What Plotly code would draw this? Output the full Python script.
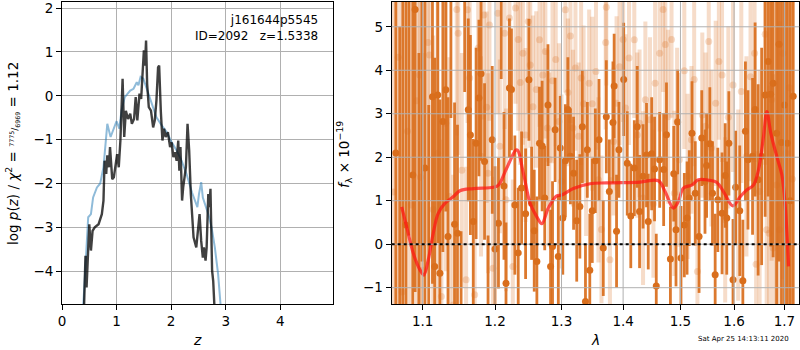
import plotly.graph_objects as go

# ---------------- left panel: p(z) ----------------
z_chi = [0.38,0.44,0.48,0.53,0.57,0.64,0.70,0.76,0.83,0.89,0.94,1.00,1.05,1.09,1.15,1.25,1.31,1.37,1.40,1.44,1.49,1.55,1.64,1.73,1.83,1.92,2.01,2.10,2.19,2.28,2.38,2.44,2.48,2.51,2.55,2.58,2.62,2.68,2.74,2.80,2.86,2.92]
logp_chi = [-5.0,-3.46,-2.77,-2.70,-2.32,-2.09,-2.00,-1.63,-0.64,-0.94,-0.79,-0.58,-0.75,-0.34,-0.03,0.12,0.16,0.31,0.24,0.43,0.39,0.16,-0.18,-0.49,-0.68,-0.83,-1.06,-1.25,-1.48,-1.78,-2.20,-2.39,-2.54,-2.24,-1.97,-2.32,-2.47,-2.70,-3.00,-3.46,-4.07,-5.0]

z_pz = [0.40,0.43,0.45,0.48,0.50,0.53,0.56,0.60,0.67,0.73,0.76,0.78,0.81,0.83,0.86,0.88,0.92,0.95,0.99,1.01,1.04,1.07,1.11,1.14,1.17,1.21,1.25,1.28,1.32,1.35,1.38,1.42,1.45,1.48,1.50,1.52,1.54,1.56,1.59,1.63,1.67,1.70,1.73,1.76,1.78,1.81,1.84,1.87,1.90,1.94,1.98,2.01,2.04,2.07,2.10,2.13,2.15,2.17,2.20,2.22,2.25,2.27,2.30,2.33,2.36,2.41,2.46,2.49,2.52,2.55,2.58,2.60,2.63,2.65,2.68,2.70,2.72,2.75,2.77,2.80]
logp_pz = [-5.0,-3.65,-4.37,-3.31,-2.93,-3.53,-3.08,-3.00,-2.93,-2.70,-2.39,-1.48,-1.78,-1.36,-1.63,-1.17,-1.90,-1.86,-1.48,-1.33,-1.63,-1.02,0.39,-0.94,-0.34,-0.53,-0.41,-0.64,-0.53,-0.03,-0.56,0.05,-0.07,0.58,1.04,0.69,1.26,0.27,-0.26,-0.34,-0.72,-0.56,-0.11,0.65,0.69,-0.34,-1.02,-0.75,-0.94,-0.83,-1.17,-1.06,-1.40,-1.29,-1.48,-1.02,-1.71,-1.17,-2.39,-2.09,-1.78,-1.63,-0.64,-1.25,-2.24,-3.23,-3.46,-3.08,-2.70,-3.31,-3.69,-3.46,-3.76,-3.46,-2.24,-2.54,-2.12,-3.99,-4.22,-5.0]

# ---------------- right panel: spectrum ----------------
wave_a = [1.065,1.070,1.074,1.078,1.082,1.087,1.090,1.095,1.099,1.103,1.108,1.113,1.116,1.120,1.123,1.127,1.131,1.134,1.138,1.143,1.147,1.152,1.157,1.162,1.165,1.169,1.173,1.177,1.180,1.185,1.190,1.196,1.200,1.205,1.209,1.213,1.216,1.221,1.224,1.229,1.234,1.239,1.245,1.250,1.254,1.258,1.262,1.266,1.270,1.274,1.279,1.283,1.286,1.290,1.295,1.298,1.302,1.306,1.310,1.314,1.319,1.324,1.329,1.333,1.338,1.341,1.345,1.349,1.354,1.360,1.367,1.372,1.377,1.383,1.385,1.389,1.393,1.401,1.407,1.413,1.419,1.424,1.428,1.434,1.440,1.443,1.449,1.454,1.457,1.463,1.470,1.475,1.482,1.488,1.492,1.495,1.501,1.507,1.512,1.516,1.521,1.527,1.534,1.539,1.545,1.548,1.554,1.559,1.564,1.569,1.577,1.583,1.586,1.590,1.598,1.603,1.611,1.617,1.622,1.627,1.636,1.641,1.647,1.654,1.661,1.667,1.672,1.677,1.684,1.689,1.694,1.700,1.706,1.712,1.718]
flux_a = [2.10,-2.50,6.20,0.44,7.00,1.59,5.40,-1.80,6.50,1.75,-2.20,3.39,-0.51,3.43,-0.67,2.82,3.55,0.18,5.90,0.46,0.25,-2.10,6.10,3.09,2.51,0.52,2.32,3.36,3.92,1.90,-1.60,2.40,-0.11,0.48,5.80,1.34,-0.90,3.59,3.56,0.90,-0.20,1.29,0.70,3.78,0.94,0.31,-0.40,2.32,2.26,1.06,3.20,-0.51,-0.05,2.63,-0.28,2.21,0.60,1.92,3.10,2.02,1.63,0.54,0.87,2.70,-1.32,2.17,-0.60,0.77,1.92,2.40,-0.09,2.93,1.21,2.80,3.64,0.30,2.17,3.79,1.86,0.65,1.75,2.70,0.75,1.56,2.05,0.52,2.08,1.73,-0.96,1.94,1.72,2.52,-0.34,1.62,0.33,2.81,-0.32,0.44,0.60,1.06,2.55,1.17,0.18,2.44,1.44,1.81,2.31,1.17,-0.70,1.02,0.71,1.58,0.60,2.32,-0.82,1.31,0.77,-0.84,2.60,1.94,2.02,3.10,1.48,2.02,3.43,4.20,3.45,3.70,2.55,4.60,2.34,3.20,2.32,1.00,3.40]
err_a = [8.5,7.5,7.8,6.0,6.8,5.5,6.5,6.2,6.9,5.0,5.4,4.3,4.8,3.4,4.0,3.0,2.8,3.2,3.0,2.8,2.5,2.4,2.6,2.1,2.3,1.9,2.2,1.8,2.0,1.8,1.8,1.7,1.9,1.5,2.0,1.7,1.4,1.6,1.4,1.6,1.5,1.3,1.5,1.4,1.3,1.4,1.5,1.3,1.5,1.2,1.4,1.3,1.5,1.2,1.4,1.2,1.3,1.3,1.2,1.1,1.3,1.4,1.2,1.3,1.3,1.1,1.3,1.2,1.2,1.4,1.1,1.3,1.2,1.4,1.2,1.3,1.1,1.3,1.2,1.2,1.1,1.4,1.3,1.2,1.2,1.1,1.3,1.2,1.2,1.1,1.3,1.2,1.2,1.1,1.3,1.2,1.2,1.2,1.3,1.1,1.2,1.2,1.3,1.1,1.2,1.2,1.3,1.2,1.4,1.2,1.4,1.2,1.3,1.2,1.4,1.3,1.5,1.4,1.6,1.6,1.8,2.0,2.2,2.5,2.8,3.1,3.5,4.0,4.6,5.0,5.5,6.0,6.5,7.0,7.5]

wave_b = [1.062,1.068,1.073,1.080,1.085,1.092,1.096,1.097,1.101,1.107,1.109,1.114,1.120,1.125,1.131,1.136,1.141,1.146,1.148,1.153,1.159,1.161,1.164,1.171,1.176,1.180,1.184,1.188,1.190,1.192,1.197,1.204,1.207,1.214,1.216,1.221,1.226,1.230,1.234,1.237,1.241,1.245,1.249,1.252,1.256,1.261,1.266,1.271,1.275,1.278,1.281,1.286,1.291,1.296,1.300,1.306,1.310,1.314,1.318,1.322,1.327,1.331,1.335,1.339,1.344,1.349,1.355,1.359,1.364,1.371,1.372,1.378,1.384,1.389,1.394,1.400,1.404,1.410,1.419,1.424,1.428,1.434,1.438,1.446,1.452,1.455,1.463,1.469,1.473,1.478,1.484,1.489,1.494,1.498,1.507,1.513,1.520,1.525,1.531,1.540,1.546,1.552,1.557,1.565,1.571,1.577,1.583,1.589,1.598,1.608,1.614,1.624,1.632,1.640,1.643,1.650,1.661,1.664,1.669,1.674,1.677,1.684,1.690,1.697,1.703,1.710,1.716]
flux_b = [1.20,4.30,-1.10,2.60,0.90,3.30,3.89,1.54,-0.60,4.64,4.35,0.80,2.09,-1.20,2.78,1.10,-1.40,5.40,4.85,1.70,-0.82,5.39,3.82,-1.16,4.51,2.02,5.27,3.15,1.63,5.04,-0.55,5.31,2.25,4.85,1.02,5.20,-0.51,5.43,4.71,3.72,4.39,2.51,5.12,4.12,3.16,3.56,4.70,3.89,4.43,2.67,1.95,3.76,4.25,2.82,1.44,5.39,3.49,4.79,2.67,4.05,2.48,3.82,3.23,2.09,3.70,3.23,3.97,1.48,0.34,4.64,5.45,-0.36,2.36,3.24,4.08,4.71,3.13,4.28,4.70,2.51,2.78,1.06,3.32,2.86,0.93,3.70,4.39,5.40,4.59,2.93,4.71,1.17,2.82,1.94,3.99,1.56,2.40,3.79,-0.63,2.97,2.71,4.66,2.21,3.24,4.20,3.89,0.56,2.92,3.66,0.90,3.51,2.02,3.85,4.39,-0.46,1.21,4.83,0.33,0.25,3.32,-0.09,1.36,0.33,4.39,2.10,3.60,1.50]
err_b = [8.0,7.6,7.2,6.8,6.6,6.0,5.6,5.2,5.0,4.6,4.4,4.0,3.8,3.6,3.4,3.2,3.0,2.9,2.8,2.7,2.6,2.6,2.5,2.4,2.5,2.3,2.4,2.2,2.3,2.2,2.1,2.3,2.0,2.2,2.1,2.2,2.0,2.2,2.1,1.9,2.1,2.0,2.1,1.9,2.1,1.8,2.0,1.9,2.0,1.8,2.0,1.9,2.0,1.8,2.0,1.9,1.7,2.0,1.8,1.9,1.7,2.0,1.8,1.9,1.7,2.0,1.8,1.9,1.7,2.0,1.8,1.9,1.7,2.0,1.8,1.9,1.7,2.0,1.8,1.9,1.7,2.0,1.8,1.9,1.7,2.0,1.8,1.9,1.7,2.0,1.8,1.9,1.7,2.0,1.8,1.9,1.7,2.0,1.8,1.9,1.7,2.0,1.8,1.9,1.8,2.0,1.9,2.1,2.0,2.2,2.1,2.3,2.4,2.5,2.6,2.8,3.0,3.2,3.4,3.7,4.0,4.4,4.8,5.2,5.7,6.2,6.8]

wave_model = [1.0725,1.0790,1.0876,1.0964,1.1015,1.1074,1.1140,1.1207,1.1297,1.1411,1.1504,1.1691,1.1977,1.2050,1.2171,1.2319,1.2417,1.2518,1.2619,1.2696,1.2794,1.2925,1.3003,1.3186,1.3452,1.3724,1.4288,1.4607,1.4725,1.4873,1.4962,1.5053,1.5205,1.5327,1.5483,1.5671,1.5796,1.5976,1.6118,1.6248,1.6378,1.6477,1.6576,1.6644,1.6724,1.6846,1.6948,1.7017,1.7084]
flux_model = [0.86,0.40,-0.21,-0.59,-0.71,-0.36,0.25,0.71,0.94,1.09,1.23,1.28,1.31,1.36,1.75,2.17,1.63,0.94,0.63,0.47,0.83,1.11,1.13,1.28,1.39,1.41,1.43,1.46,1.21,0.83,0.98,1.29,1.36,1.48,1.48,1.42,1.21,0.88,1.09,1.25,1.36,1.71,2.47,3.05,2.55,2.01,1.59,0.86,-0.51]

z_ticks = [0, 1, 2, 3, 4]
logp_ticks = [-4, -3, -2, -1, 0, 1, 2]
wave_ticks = [1.1, 1.2, 1.3, 1.4, 1.5, 1.6, 1.7]
flux_ticks = [-1, 0, 1, 2, 3, 4, 5]

ORANGE = "rgb(217,110,28)"
ORANGE_LIGHT = "rgba(217,110,28,0.24)"
FONT = "DejaVu Sans"

fig = go.Figure()

# left panel traces
fig.add_trace(go.Scatter(x=z_chi, y=logp_chi, mode="lines",
                         line=dict(color="rgba(31,119,180,0.5)", width=2),
                         xaxis="x", yaxis="y", showlegend=False))
fig.add_trace(go.Scatter(x=z_pz, y=logp_pz, mode="lines",
                         line=dict(color="rgba(0,0,0,0.75)", width=2.4),
                         xaxis="x", yaxis="y", showlegend=False))

# right panel traces
fig.add_trace(go.Scatter(x=wave_b, y=flux_b, mode="markers",
                         marker=dict(color=ORANGE_LIGHT, size=7),
                         error_y=dict(type="data", array=err_b, color=ORANGE_LIGHT,
                                      thickness=4, width=0),
                         xaxis="x2", yaxis="y2", showlegend=False))
fig.add_trace(go.Scatter(x=wave_a, y=flux_a, mode="markers",
                         marker=dict(color=ORANGE, size=7),
                         error_y=dict(type="data", array=err_a, color="rgba(217,110,28,0.92)",
                                      thickness=2.8, width=0),
                         xaxis="x2", yaxis="y2", showlegend=False))
fig.add_trace(go.Scatter(x=wave_model, y=flux_model, mode="lines",
                         line=dict(color="rgba(255,20,20,0.72)", width=3.2, shape="spline"),
                         xaxis="x2", yaxis="y2", showlegend=False))

axis_common = dict(showline=True, linecolor="black", linewidth=1, mirror=True,
                   ticks="outside", ticklen=5, tickcolor="black", zeroline=False,
                   automargin=False, ticklabeloverflow="allow",
                   tickfont=dict(family=FONT, size=13.5, color="black"))

shapes = []
# grid lines over the spectrum (drawn above the error bars as in the reference)
for v in wave_ticks:
    shapes.append(dict(type="line", xref="x2", yref="y2 domain", x0=v, x1=v, y0=0, y1=1,
                       line=dict(color="rgba(176,176,176,1)", width=1), layer="above"))
for v in flux_ticks:
    shapes.append(dict(type="line", xref="x2 domain", yref="y2", x0=0, x1=1, y0=v, y1=v,
                       line=dict(color="rgba(176,176,176,1)", width=1), layer="above"))
shapes.append(dict(type="line", xref="x2 domain", yref="y2", x0=0, x1=1, y0=0, y1=0,
                   line=dict(color="black", width=2, dash="dot"), layer="above"))

fig.update_layout(
    template="none",
    width=800, height=350,
    margin=dict(l=0, r=0, t=2, b=46, autoexpand=False),
    paper_bgcolor="white", plot_bgcolor="white",
    font=dict(family=FONT, color="black"),
    xaxis=dict(domain=[0.0775, 0.4166], range=[0, 4.97], tickvals=z_ticks,
               showgrid=True, gridcolor="#b0b0b0", gridwidth=1, anchor="y", **axis_common),
    yaxis=dict(domain=[0, 1], range=[-4.75, 2.14], tickvals=logp_ticks,
               ticktext=[("\u2212" + str(-v)) if v < 0 else str(v) for v in logp_ticks],
               showgrid=True, gridcolor="#b0b0b0", gridwidth=1, anchor="x", **axis_common),
    xaxis2=dict(domain=[0.4896, 0.9991], type="log", range=[0.02518, 0.2382],
                tickvals=wave_ticks, ticktext=[str(v) for v in wave_ticks],
                showgrid=False, anchor="y2", layer="above traces", **axis_common),
    yaxis2=dict(domain=[0, 1], range=[-1.375, 5.57], tickvals=flux_ticks,
                ticktext=[("\u2212" + str(-v)) if v < 0 else str(v) for v in flux_ticks],
                showgrid=False, anchor="x2", layer="above traces", **axis_common),
    shapes=shapes,
    annotations=[
        dict(text="j161644p5545<br>ID=2092\u00a0\u00a0\u00a0z=1.5338", xref="paper", yref="paper",
             x=320 / 800, y=(304 - 11) / 302, xanchor="right", yanchor="top", align="right",
             showarrow=False, font=dict(family=FONT, size=12, color="black")),
        dict(text="<i>z</i>", xref="paper", yref="paper", x=197 / 800, y=(304 - 340) / 302,
             xanchor="center", yanchor="middle", showarrow=False,
             font=dict(family=FONT, size=14, color="black")),
        dict(text="<i>λ</i>", xref="paper", yref="paper", x=595 / 800, y=(304 - 340) / 302,
             xanchor="center", yanchor="middle", showarrow=False,
             font=dict(family=FONT, size=14, color="black")),
        dict(text="log <i>p</i>(<i>z</i>) / <i>χ</i><sup>2</sup> = "
                  "<span style='font-size:9px'><sup>7775</sup>/<sub>6969</sub></span> = 1.12",
             xref="paper", yref="paper", x=12 / 800, y=(304 - 154) / 302,
             xanchor="center", yanchor="middle", textangle=-90, showarrow=False,
             font=dict(family=FONT, size=13.5, color="black")),
        dict(text="<i>f</i><sub>λ</sub> × 10<sup>−19</sup>",
             xref="paper", yref="paper", x=344 / 800, y=(304 - 155) / 302,
             xanchor="center", yanchor="middle", textangle=-90, showarrow=False,
             font=dict(family=FONT, size=13.5, color="black")),
        dict(text="Sat Apr 25 14:13:11 2020", xref="paper", yref="paper",
             x=743 / 800, y=(304 - 339) / 302, xanchor="center", yanchor="middle",
             showarrow=False, font=dict(family=FONT, size=7, color="black")),
    ],
)

fig.write_html("out.html")
